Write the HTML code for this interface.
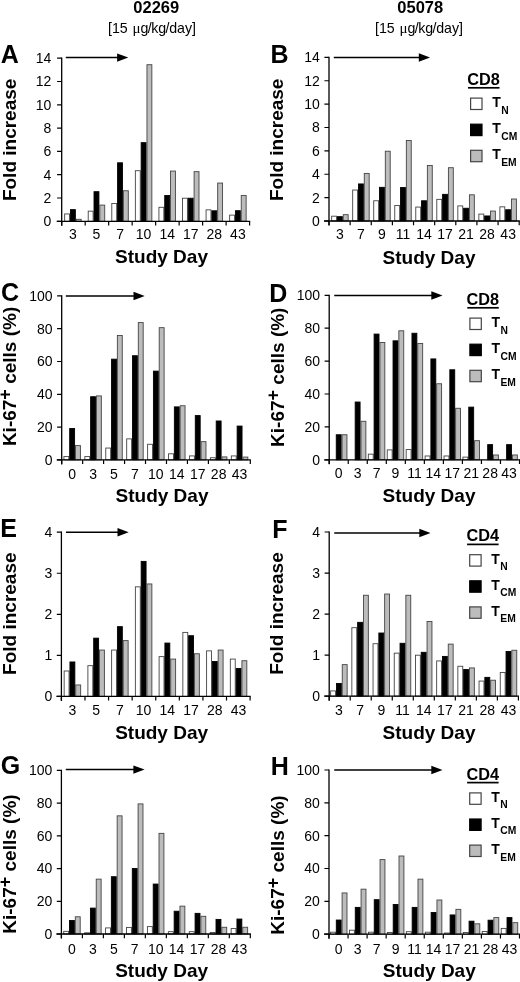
<!DOCTYPE html>
<html><head><meta charset="utf-8"><title>Figure</title>
<style>
html,body{margin:0;padding:0;background:#fff;width:520px;height:982px;overflow:hidden}
svg{display:block;filter:grayscale(1) blur(0.3px)}
text{font-family:"Liberation Sans",sans-serif;fill:#000}
.m{text-anchor:middle}
.e{text-anchor:end}
.w{fill:#fff;stroke:#444;stroke-width:.9px}
.k{fill:#000;stroke:#000;stroke-width:.9px}
.g{fill:#bcbcbc;stroke:#444;stroke-width:.9px}
.tk{stroke:#000;stroke-width:1.2px;fill:none}
.ax1{stroke:#000;stroke-width:1.3px;fill:none}
.t{font-size:14px}
.ax{font-size:19px;font-weight:bold}
.L{font-size:25px;font-weight:bold}
.hd{font-size:16.5px;font-weight:bold}
.sub{font-size:14.2px;word-spacing:0.8px}
.sup{font-size:18px}
.mu{font-family:"Liberation Serif",serif;font-size:15px}
.cd{font-size:16.3px;font-weight:bold}
.lt{font-size:14px;font-weight:bold}
.ls{font-size:10px;font-weight:bold}
</style></head>
<body><svg width="520" height="982" viewBox="0 0 520 982">
<rect width="520" height="982" fill="#fff"/>
<text x="156.3" y="13" class="hd m">02269</text>
<text x="152" y="32.8" class="sub m">[15 <tspan class="mu">&#956;</tspan>g<tspan dx="-0.6">/</tspan><tspan dx="-0.6">k</tspan>g<tspan dx="-0.6">/</tspan><tspan dx="-0.4">d</tspan>ay]</text>
<text x="420.3" y="13" class="hd m">05078</text>
<text x="419" y="32.8" class="sub m">[15 <tspan class="mu">&#956;</tspan>g<tspan dx="-0.6">/</tspan><tspan dx="-0.6">k</tspan>g<tspan dx="-0.6">/</tspan><tspan dx="-0.4">d</tspan>ay]</text>
<rect class="w" x="64.65" y="213.94" width="4.9" height="7.36"/>
<rect class="k" x="70.45" y="209.63" width="4.9" height="11.67"/>
<rect class="g" x="76.25" y="219.3" width="4.9" height="2"/>
<rect class="w" x="88.22" y="211.15" width="4.9" height="10.15"/>
<rect class="k" x="94.02" y="191.69" width="4.9" height="29.61"/>
<rect class="g" x="99.82" y="205.09" width="4.9" height="16.21"/>
<rect class="w" x="111.79" y="203.46" width="4.9" height="17.84"/>
<rect class="k" x="117.59" y="162.8" width="4.9" height="58.5"/>
<rect class="g" x="123.39" y="190.76" width="4.9" height="30.54"/>
<rect class="w" x="135.36" y="170.72" width="4.9" height="50.58"/>
<rect class="k" x="141.16" y="142.65" width="4.9" height="78.65"/>
<rect class="g" x="146.96" y="64.71" width="4.9" height="156.59"/>
<rect class="w" x="158.93" y="207.3" width="4.9" height="14"/>
<rect class="k" x="164.73" y="195.54" width="4.9" height="25.76"/>
<rect class="g" x="170.53" y="171.07" width="4.9" height="50.23"/>
<rect class="w" x="182.5" y="198.22" width="4.9" height="23.08"/>
<rect class="k" x="188.3" y="198.22" width="4.9" height="23.08"/>
<rect class="g" x="194.1" y="171.66" width="4.9" height="49.65"/>
<rect class="w" x="206.07" y="209.87" width="4.9" height="11.43"/>
<rect class="k" x="211.87" y="210.8" width="4.9" height="10.5"/>
<rect class="g" x="217.67" y="183.07" width="4.9" height="38.23"/>
<rect class="w" x="229.64" y="215.11" width="4.9" height="6.19"/>
<rect class="k" x="235.44" y="210.68" width="4.9" height="10.62"/>
<rect class="g" x="241.24" y="195.54" width="4.9" height="25.76"/>
<path class="ax1" d="M61.7 57.6V225.8M56.7 221.3H250.2"/>
<text x="51.4" y="226.2" class="t e">0</text>
<text x="51.4" y="202.9" class="t e">2</text>
<text x="51.4" y="179.6" class="t e">4</text>
<text x="51.4" y="156.3" class="t e">6</text>
<text x="51.4" y="133" class="t e">8</text>
<text x="51.4" y="109.7" class="t e">10</text>
<text x="51.4" y="86.4" class="t e">12</text>
<text x="51.4" y="63.1" class="t e">14</text>
<path class="tk" d="M57.1 221.3H61.7M57.1 198H61.7M57.1 174.7H61.7M57.1 151.4H61.7M57.1 128.1H61.7M57.1 104.8H61.7M57.1 81.5H61.7M57.1 58.2H61.7M61.7 221.3V225.5M85.19 221.3V225.5M108.67 221.3V225.5M132.16 221.3V225.5M155.65 221.3V225.5M179.14 221.3V225.5M202.62 221.3V225.5M226.11 221.3V225.5M249.6 221.3V225.5"/>
<text x="72.9" y="239.3" class="t m">3</text>
<text x="96.47" y="239.3" class="t m">5</text>
<text x="120.04" y="239.3" class="t m">7</text>
<text x="143.61" y="239.3" class="t m">10</text>
<text x="167.18" y="239.3" class="t m">14</text>
<text x="190.75" y="239.3" class="t m">17</text>
<text x="214.32" y="239.3" class="t m">28</text>
<text x="237.89" y="239.3" class="t m">43</text>
<path d="M65.8 57.6H120.3" stroke="#000" stroke-width="1.5"/>
<path d="M117.1 53.4L128.3 57.6L117.1 61.8Z" fill="#000"/>
<text x="0.7" y="62.8" class="L">A</text>
<text transform="translate(16.3 139.85) rotate(-90)" class="ax m">Fold increase</text>
<text x="161.5" y="263.1" class="ax m">Study Day</text>
<rect class="w" x="331.65" y="216.19" width="4.9" height="4.81"/>
<rect class="k" x="337.45" y="216.66" width="4.9" height="4.34"/>
<rect class="g" x="343.25" y="214.67" width="4.9" height="6.33"/>
<rect class="w" x="352.68" y="190.02" width="4.9" height="30.98"/>
<rect class="k" x="358.48" y="183.94" width="4.9" height="37.06"/>
<rect class="g" x="364.28" y="173.42" width="4.9" height="47.58"/>
<rect class="w" x="373.71" y="200.77" width="4.9" height="20.23"/>
<rect class="k" x="379.51" y="187.33" width="4.9" height="33.67"/>
<rect class="g" x="385.31" y="151.22" width="4.9" height="69.78"/>
<rect class="w" x="394.74" y="205.56" width="4.9" height="15.44"/>
<rect class="k" x="400.54" y="187.56" width="4.9" height="33.44"/>
<rect class="g" x="406.34" y="140.47" width="4.9" height="80.53"/>
<rect class="w" x="415.77" y="207.08" width="4.9" height="13.92"/>
<rect class="k" x="421.57" y="200.77" width="4.9" height="20.23"/>
<rect class="g" x="427.37" y="165.48" width="4.9" height="55.52"/>
<rect class="w" x="436.8" y="199.36" width="4.9" height="21.64"/>
<rect class="k" x="442.6" y="194.34" width="4.9" height="26.66"/>
<rect class="g" x="448.4" y="167.7" width="4.9" height="53.3"/>
<rect class="w" x="457.83" y="205.91" width="4.9" height="15.09"/>
<rect class="k" x="463.63" y="208.25" width="4.9" height="12.75"/>
<rect class="g" x="469.43" y="194.81" width="4.9" height="26.19"/>
<rect class="w" x="478.86" y="214.09" width="4.9" height="6.91"/>
<rect class="k" x="484.66" y="215.96" width="4.9" height="5.04"/>
<rect class="g" x="490.46" y="211.05" width="4.9" height="9.95"/>
<rect class="w" x="499.89" y="206.84" width="4.9" height="14.16"/>
<rect class="k" x="505.69" y="209.76" width="4.9" height="11.24"/>
<rect class="g" x="511.49" y="199.01" width="4.9" height="21.99"/>
<path class="ax1" d="M329 56.8V225.5M324 221H519.8"/>
<text x="319.9" y="225.9" class="t e">0</text>
<text x="319.9" y="202.53" class="t e">2</text>
<text x="319.9" y="179.16" class="t e">4</text>
<text x="319.9" y="155.79" class="t e">6</text>
<text x="319.9" y="132.41" class="t e">8</text>
<text x="319.9" y="109.04" class="t e">10</text>
<text x="319.9" y="85.67" class="t e">12</text>
<text x="319.9" y="62.3" class="t e">14</text>
<path class="tk" d="M324.4 221H329M324.4 197.63H329M324.4 174.26H329M324.4 150.89H329M324.4 127.51H329M324.4 104.14H329M324.4 80.77H329M324.4 57.4H329M329 221V225.2M350.13 221V225.2M371.27 221V225.2M392.4 221V225.2M413.53 221V225.2M434.67 221V225.2M455.8 221V225.2M476.93 221V225.2M498.07 221V225.2M519.2 221V225.2"/>
<text x="339.9" y="239.1" class="t m">3</text>
<text x="360.93" y="239.1" class="t m">7</text>
<text x="381.96" y="239.1" class="t m">9</text>
<text x="402.99" y="239.1" class="t m">11</text>
<text x="424.02" y="239.1" class="t m">14</text>
<text x="445.05" y="239.1" class="t m">17</text>
<text x="466.08" y="239.1" class="t m">21</text>
<text x="487.11" y="239.1" class="t m">28</text>
<text x="508.14" y="239.1" class="t m">43</text>
<path d="M333.8 57.5H422" stroke="#000" stroke-width="1.5"/>
<path d="M418.8 53.3L430 57.5L418.8 61.7Z" fill="#000"/>
<text x="270.4" y="62.8" class="L">B</text>
<text transform="translate(283.4 139.8) rotate(-90)" class="ax m">Fold increase</text>
<text x="429" y="264.1" class="ax m">Study Day</text>
<g transform="translate(0 0)">
<text x="467.3" y="84.8" class="cd">CD8</text>
<path d="M468 87.8H499.5" stroke="#000" stroke-width="1.7"/>
<rect x="470.6" y="98.1" width="11.4" height="11.4" fill="#fff" stroke="#444" stroke-width="1.2"/>
<text x="492.2" y="107.2" class="lt">T</text>
<text transform="translate(501.2 113.5) scale(1.03 1)" class="ls">N</text>
<rect x="470.6" y="124.2" width="11.4" height="11.4" fill="#000" stroke="#000" stroke-width="1.2"/>
<text x="492.2" y="133.3" class="lt">T</text>
<text transform="translate(501.2 139.6) scale(1.03 1)" class="ls">CM</text>
<rect x="470.6" y="150.3" width="11.4" height="11.4" fill="#bcbcbc" stroke="#444" stroke-width="1.2"/>
<text x="492.2" y="159.4" class="lt">T</text>
<text transform="translate(501.2 165.7) scale(1.03 1)" class="ls">EM</text>
</g>
<rect class="w" x="63.9" y="456.58" width="4.9" height="3.32"/>
<rect class="k" x="69.7" y="428.53" width="4.9" height="31.37"/>
<rect class="g" x="75.5" y="445.59" width="4.9" height="14.31"/>
<rect class="w" x="84.83" y="456.58" width="4.9" height="3.32"/>
<rect class="k" x="90.63" y="396.72" width="4.9" height="63.18"/>
<rect class="g" x="96.43" y="395.9" width="4.9" height="64"/>
<rect class="w" x="105.76" y="448.05" width="4.9" height="11.85"/>
<rect class="k" x="111.56" y="359.16" width="4.9" height="100.74"/>
<rect class="g" x="117.36" y="335.55" width="4.9" height="124.35"/>
<rect class="w" x="126.69" y="438.87" width="4.9" height="21.03"/>
<rect class="k" x="132.49" y="355.72" width="4.9" height="104.18"/>
<rect class="g" x="138.29" y="322.59" width="4.9" height="137.31"/>
<rect class="w" x="147.62" y="444.28" width="4.9" height="15.62"/>
<rect class="k" x="153.42" y="371.13" width="4.9" height="88.77"/>
<rect class="g" x="159.22" y="327.67" width="4.9" height="132.23"/>
<rect class="w" x="168.55" y="453.79" width="4.9" height="6.11"/>
<rect class="k" x="174.35" y="406.89" width="4.9" height="53.01"/>
<rect class="g" x="180.15" y="405.74" width="4.9" height="54.16"/>
<rect class="w" x="189.48" y="455.92" width="4.9" height="3.98"/>
<rect class="k" x="195.28" y="415.58" width="4.9" height="44.32"/>
<rect class="g" x="201.08" y="441.65" width="4.9" height="18.25"/>
<rect class="w" x="210.41" y="457.73" width="4.9" height="2.17"/>
<rect class="k" x="216.21" y="420.99" width="4.9" height="38.91"/>
<rect class="g" x="222.01" y="456.91" width="4.9" height="2.99"/>
<rect class="w" x="231.34" y="455.92" width="4.9" height="3.98"/>
<rect class="k" x="237.14" y="426.07" width="4.9" height="33.83"/>
<rect class="g" x="242.94" y="457.07" width="4.9" height="2.83"/>
<path class="ax1" d="M61.7 295.3V464.4M56.7 459.9H250.9"/>
<text x="52.5" y="464.8" class="t e">0</text>
<text x="52.5" y="432" class="t e">20</text>
<text x="52.5" y="399.2" class="t e">40</text>
<text x="52.5" y="366.4" class="t e">60</text>
<text x="52.5" y="333.6" class="t e">80</text>
<text x="52.5" y="300.8" class="t e">100</text>
<path class="tk" d="M57.1 459.9H61.7M57.1 427.1H61.7M57.1 394.3H61.7M57.1 361.5H61.7M57.1 328.7H61.7M57.1 295.9H61.7M61.7 459.9V464.1M82.66 459.9V464.1M103.61 459.9V464.1M124.57 459.9V464.1M145.52 459.9V464.1M166.48 459.9V464.1M187.43 459.9V464.1M208.39 459.9V464.1M229.34 459.9V464.1M250.3 459.9V464.1"/>
<text x="72.15" y="478.7" class="t m">0</text>
<text x="93.08" y="478.7" class="t m">3</text>
<text x="114.01" y="478.7" class="t m">5</text>
<text x="134.94" y="478.7" class="t m">7</text>
<text x="155.87" y="478.7" class="t m">10</text>
<text x="176.8" y="478.7" class="t m">14</text>
<text x="197.73" y="478.7" class="t m">17</text>
<text x="218.66" y="478.7" class="t m">28</text>
<text x="239.59" y="478.7" class="t m">43</text>
<path d="M65.8 296H136.7" stroke="#000" stroke-width="1.5"/>
<path d="M133.5 291.8L144.7 296L133.5 300.2Z" fill="#000"/>
<text x="1" y="301" class="L">C</text>
<text transform="translate(16.4 376.45) rotate(-90)" class="ax m">Ki-67<tspan class="sup" dy="-5">+</tspan><tspan dy="5"> cells (%)</tspan></text>
<text x="162" y="501.5" class="ax m">Study Day</text>
<rect class="k" x="336.25" y="434.75" width="4.9" height="25.05"/>
<rect class="g" x="342.05" y="434.75" width="4.9" height="25.05"/>
<rect class="k" x="355.18" y="402.02" width="4.9" height="57.78"/>
<rect class="g" x="360.98" y="421.26" width="4.9" height="38.54"/>
<rect class="w" x="368.31" y="454.16" width="4.9" height="5.64"/>
<rect class="k" x="374.11" y="334.08" width="4.9" height="125.72"/>
<rect class="g" x="379.91" y="342.47" width="4.9" height="117.33"/>
<rect class="w" x="387.24" y="449.89" width="4.9" height="9.91"/>
<rect class="k" x="393.04" y="340.82" width="4.9" height="118.98"/>
<rect class="g" x="398.84" y="330.79" width="4.9" height="129.01"/>
<rect class="w" x="406.17" y="449.56" width="4.9" height="10.24"/>
<rect class="k" x="411.97" y="333.26" width="4.9" height="126.54"/>
<rect class="g" x="417.77" y="343.45" width="4.9" height="116.34"/>
<rect class="w" x="425.1" y="455.97" width="4.9" height="3.83"/>
<rect class="k" x="430.9" y="358.92" width="4.9" height="100.88"/>
<rect class="g" x="436.7" y="383.76" width="4.9" height="76.04"/>
<rect class="w" x="444.03" y="455.97" width="4.9" height="3.83"/>
<rect class="k" x="449.83" y="369.78" width="4.9" height="90.02"/>
<rect class="g" x="455.63" y="408.27" width="4.9" height="51.53"/>
<rect class="w" x="462.96" y="457.12" width="4.9" height="2.68"/>
<rect class="k" x="468.76" y="407.12" width="4.9" height="52.68"/>
<rect class="g" x="474.56" y="440.67" width="4.9" height="19.13"/>
<rect class="k" x="487.69" y="444.62" width="4.9" height="15.18"/>
<rect class="g" x="493.49" y="454.99" width="4.9" height="4.81"/>
<rect class="k" x="506.62" y="444.62" width="4.9" height="15.18"/>
<rect class="g" x="512.42" y="454.99" width="4.9" height="4.81"/>
<path class="ax1" d="M329.2 294.7V464.3M324.2 459.8H520.1"/>
<text x="320.1" y="464.7" class="t e">0</text>
<text x="320.1" y="431.8" class="t e">20</text>
<text x="320.1" y="398.9" class="t e">40</text>
<text x="320.1" y="366" class="t e">60</text>
<text x="320.1" y="333.1" class="t e">80</text>
<text x="320.1" y="300.2" class="t e">100</text>
<path class="tk" d="M324.6 459.8H329.2M324.6 426.9H329.2M324.6 394H329.2M324.6 361.1H329.2M324.6 328.2H329.2M324.6 295.3H329.2M329.2 459.8V464M348.23 459.8V464M367.26 459.8V464M386.29 459.8V464M405.32 459.8V464M424.35 459.8V464M443.38 459.8V464M462.41 459.8V464M481.44 459.8V464M500.47 459.8V464M519.5 459.8V464"/>
<text x="338.7" y="478.3" class="t m">0</text>
<text x="357.63" y="478.3" class="t m">3</text>
<text x="376.56" y="478.3" class="t m">7</text>
<text x="395.49" y="478.3" class="t m">9</text>
<text x="414.42" y="478.3" class="t m">11</text>
<text x="433.35" y="478.3" class="t m">14</text>
<text x="452.28" y="478.3" class="t m">17</text>
<text x="471.21" y="478.3" class="t m">21</text>
<text x="490.14" y="478.3" class="t m">28</text>
<text x="509.07" y="478.3" class="t m">43</text>
<path d="M334.25 295.5H434.5" stroke="#000" stroke-width="1.5"/>
<path d="M431.3 291.3L442.5 295.5L431.3 299.7Z" fill="#000"/>
<text x="269.3" y="301.7" class="L">D</text>
<text transform="translate(284.1 377.25) rotate(-90)" class="ax m">Ki-67<tspan class="sup" dy="-5">+</tspan><tspan dy="5"> cells (%)</tspan></text>
<text x="429" y="502.3" class="ax m">Study Day</text>
<g transform="translate(-0.7 0)">
<text x="467.3" y="304.8" class="cd">CD8</text>
<path d="M468 307.8H499.5" stroke="#000" stroke-width="1.7"/>
<rect x="470.6" y="318.1" width="11.4" height="11.4" fill="#fff" stroke="#444" stroke-width="1.2"/>
<text x="492.2" y="327.2" class="lt">T</text>
<text transform="translate(501.2 333.5) scale(1.03 1)" class="ls">N</text>
<rect x="470.6" y="344.2" width="11.4" height="11.4" fill="#000" stroke="#000" stroke-width="1.2"/>
<text x="492.2" y="353.3" class="lt">T</text>
<text transform="translate(501.2 359.6) scale(1.03 1)" class="ls">CM</text>
<rect x="470.6" y="370.3" width="11.4" height="11.4" fill="#bcbcbc" stroke="#444" stroke-width="1.2"/>
<text x="492.2" y="379.4" class="lt">T</text>
<text transform="translate(501.2 385.7) scale(1.03 1)" class="ls">EM</text>
</g>
<rect class="w" x="64.15" y="670.99" width="4.9" height="25.41"/>
<rect class="k" x="69.95" y="661.96" width="4.9" height="34.44"/>
<rect class="g" x="75.75" y="684.95" width="4.9" height="11.45"/>
<rect class="w" x="87.89" y="665.65" width="4.9" height="30.75"/>
<rect class="k" x="93.69" y="638.15" width="4.9" height="58.25"/>
<rect class="g" x="99.49" y="650.05" width="4.9" height="46.35"/>
<rect class="w" x="111.63" y="650.05" width="4.9" height="46.35"/>
<rect class="k" x="117.43" y="626.65" width="4.9" height="69.75"/>
<rect class="g" x="123.23" y="640.61" width="4.9" height="55.79"/>
<rect class="w" x="135.37" y="586.84" width="4.9" height="109.56"/>
<rect class="k" x="141.17" y="561.39" width="4.9" height="135.01"/>
<rect class="g" x="146.97" y="583.96" width="4.9" height="112.44"/>
<rect class="w" x="159.11" y="656.62" width="4.9" height="39.78"/>
<rect class="k" x="164.91" y="643.07" width="4.9" height="53.33"/>
<rect class="g" x="170.71" y="659.08" width="4.9" height="37.32"/>
<rect class="w" x="182.85" y="632.4" width="4.9" height="64"/>
<rect class="k" x="188.65" y="635.69" width="4.9" height="60.71"/>
<rect class="g" x="194.45" y="653.75" width="4.9" height="42.65"/>
<rect class="w" x="206.59" y="650.87" width="4.9" height="45.53"/>
<rect class="k" x="212.39" y="661.55" width="4.9" height="34.85"/>
<rect class="g" x="218.19" y="650.05" width="4.9" height="46.35"/>
<rect class="w" x="230.33" y="659.08" width="4.9" height="37.32"/>
<rect class="k" x="236.13" y="668.53" width="4.9" height="27.87"/>
<rect class="g" x="241.93" y="660.73" width="4.9" height="35.67"/>
<path class="ax1" d="M61.4 531.6V700.9M56.4 696.4H250.7"/>
<text x="52.3" y="701.3" class="t e">0</text>
<text x="52.3" y="660.25" class="t e">1</text>
<text x="52.3" y="619.2" class="t e">2</text>
<text x="52.3" y="578.15" class="t e">3</text>
<text x="52.3" y="537.1" class="t e">4</text>
<path class="tk" d="M56.8 696.4H61.4M56.8 655.35H61.4M56.8 614.3H61.4M56.8 573.25H61.4M56.8 532.2H61.4M61.4 696.4V700.6M84.99 696.4V700.6M108.57 696.4V700.6M132.16 696.4V700.6M155.75 696.4V700.6M179.34 696.4V700.6M202.92 696.4V700.6M226.51 696.4V700.6M250.1 696.4V700.6"/>
<text x="72.4" y="715.4" class="t m">3</text>
<text x="96.14" y="715.4" class="t m">5</text>
<text x="119.88" y="715.4" class="t m">7</text>
<text x="143.62" y="715.4" class="t m">10</text>
<text x="167.36" y="715.4" class="t m">14</text>
<text x="191.1" y="715.4" class="t m">17</text>
<text x="214.84" y="715.4" class="t m">28</text>
<text x="238.58" y="715.4" class="t m">43</text>
<path d="M66 532.3H120.7" stroke="#000" stroke-width="1.5"/>
<path d="M117.5 528.1L128.7 532.3L117.5 536.5Z" fill="#000"/>
<text x="0.3" y="537.2" class="L">E</text>
<text transform="translate(16.3 613.7) rotate(-90)" class="ax m">Fold increase</text>
<text x="161.6" y="738.8" class="ax m">Study Day</text>
<rect class="w" x="330.65" y="690.9" width="4.9" height="5.3"/>
<rect class="k" x="336.45" y="683.51" width="4.9" height="12.69"/>
<rect class="g" x="342.25" y="664.63" width="4.9" height="31.57"/>
<rect class="w" x="351.85" y="627.69" width="4.9" height="68.51"/>
<rect class="k" x="357.65" y="622.35" width="4.9" height="73.85"/>
<rect class="g" x="363.45" y="595.26" width="4.9" height="100.94"/>
<rect class="w" x="373.05" y="643.7" width="4.9" height="52.5"/>
<rect class="k" x="378.85" y="633.02" width="4.9" height="63.18"/>
<rect class="g" x="384.65" y="594.03" width="4.9" height="102.18"/>
<rect class="w" x="394.25" y="653.14" width="4.9" height="43.06"/>
<rect class="k" x="400.05" y="643.29" width="4.9" height="52.92"/>
<rect class="g" x="405.85" y="595.26" width="4.9" height="100.94"/>
<rect class="w" x="415.45" y="655.19" width="4.9" height="41.01"/>
<rect class="k" x="421.25" y="652.32" width="4.9" height="43.88"/>
<rect class="g" x="427.05" y="621.53" width="4.9" height="74.67"/>
<rect class="w" x="436.65" y="660.94" width="4.9" height="35.26"/>
<rect class="k" x="442.45" y="656.42" width="4.9" height="39.78"/>
<rect class="g" x="448.25" y="644.11" width="4.9" height="52.09"/>
<rect class="w" x="457.85" y="666.27" width="4.9" height="29.93"/>
<rect class="k" x="463.65" y="669.56" width="4.9" height="26.64"/>
<rect class="g" x="469.45" y="667.92" width="4.9" height="28.29"/>
<rect class="w" x="479.05" y="681.05" width="4.9" height="15.15"/>
<rect class="k" x="484.85" y="677.36" width="4.9" height="18.84"/>
<rect class="g" x="490.65" y="680.23" width="4.9" height="15.97"/>
<rect class="w" x="500.25" y="672.43" width="4.9" height="23.77"/>
<rect class="k" x="506.05" y="651.5" width="4.9" height="44.71"/>
<rect class="g" x="511.85" y="650.26" width="4.9" height="45.94"/>
<path class="ax1" d="M329.2 531.4V700.7M324.2 696.2H519"/>
<text x="320.1" y="701.1" class="t e">0</text>
<text x="320.1" y="660.05" class="t e">1</text>
<text x="320.1" y="619" class="t e">2</text>
<text x="320.1" y="577.95" class="t e">3</text>
<text x="320.1" y="536.9" class="t e">4</text>
<path class="tk" d="M324.6 696.2H329.2M324.6 655.15H329.2M324.6 614.1H329.2M324.6 573.05H329.2M324.6 532H329.2M329.2 696.2V700.4M350.22 696.2V700.4M371.24 696.2V700.4M392.27 696.2V700.4M413.29 696.2V700.4M434.31 696.2V700.4M455.33 696.2V700.4M476.36 696.2V700.4M497.38 696.2V700.4M518.4 696.2V700.4"/>
<text x="338.9" y="715.2" class="t m">3</text>
<text x="360.1" y="715.2" class="t m">7</text>
<text x="381.3" y="715.2" class="t m">9</text>
<text x="402.5" y="715.2" class="t m">11</text>
<text x="423.7" y="715.2" class="t m">14</text>
<text x="444.9" y="715.2" class="t m">17</text>
<text x="466.1" y="715.2" class="t m">21</text>
<text x="487.3" y="715.2" class="t m">28</text>
<text x="508.5" y="715.2" class="t m">43</text>
<path d="M334.25 533H422.5" stroke="#000" stroke-width="1.5"/>
<path d="M419.3 528.8L430.5 533L419.3 537.2Z" fill="#000"/>
<text x="272.2" y="537.6" class="L">F</text>
<text transform="translate(283.4 613.5) rotate(-90)" class="ax m">Fold increase</text>
<text x="429" y="738.8" class="ax m">Study Day</text>
<g transform="translate(-0.9 0)">
<text x="467.3" y="541.4" class="cd">CD4</text>
<path d="M468 544.4H499.5" stroke="#000" stroke-width="1.7"/>
<rect x="470.6" y="554.7" width="11.4" height="11.4" fill="#fff" stroke="#444" stroke-width="1.2"/>
<text x="492.2" y="563.8" class="lt">T</text>
<text transform="translate(501.2 570.1) scale(1.03 1)" class="ls">N</text>
<rect x="470.6" y="580.8" width="11.4" height="11.4" fill="#000" stroke="#000" stroke-width="1.2"/>
<text x="492.2" y="589.9" class="lt">T</text>
<text transform="translate(501.2 596.2) scale(1.03 1)" class="ls">CM</text>
<rect x="470.6" y="606.9" width="11.4" height="11.4" fill="#bcbcbc" stroke="#444" stroke-width="1.2"/>
<text x="492.2" y="616" class="lt">T</text>
<text transform="translate(501.2 622.3) scale(1.03 1)" class="ls">EM</text>
</g>
<rect class="w" x="63.7" y="931.34" width="4.9" height="2.66"/>
<rect class="k" x="69.5" y="920.54" width="4.9" height="13.46"/>
<rect class="g" x="75.3" y="916.78" width="4.9" height="17.22"/>
<rect class="w" x="84.63" y="932.81" width="4.9" height="1.19"/>
<rect class="k" x="90.43" y="908.11" width="4.9" height="25.89"/>
<rect class="g" x="96.23" y="879.15" width="4.9" height="54.85"/>
<rect class="w" x="105.56" y="927.91" width="4.9" height="6.09"/>
<rect class="k" x="111.36" y="876.7" width="4.9" height="57.3"/>
<rect class="g" x="117.16" y="815.84" width="4.9" height="118.16"/>
<rect class="w" x="126.49" y="927.42" width="4.9" height="6.58"/>
<rect class="k" x="132.29" y="868.52" width="4.9" height="65.48"/>
<rect class="g" x="138.09" y="803.9" width="4.9" height="130.1"/>
<rect class="w" x="147.42" y="926.6" width="4.9" height="7.4"/>
<rect class="k" x="153.22" y="884.06" width="4.9" height="49.94"/>
<rect class="g" x="159.02" y="833.35" width="4.9" height="100.65"/>
<rect class="w" x="168.35" y="931.67" width="4.9" height="2.33"/>
<rect class="k" x="174.15" y="911.22" width="4.9" height="22.78"/>
<rect class="g" x="179.95" y="906.15" width="4.9" height="27.85"/>
<rect class="w" x="189.28" y="931.67" width="4.9" height="2.33"/>
<rect class="k" x="195.08" y="913.35" width="4.9" height="20.65"/>
<rect class="g" x="200.88" y="916.29" width="4.9" height="17.71"/>
<rect class="w" x="210.21" y="932.49" width="4.9" height="1.51"/>
<rect class="k" x="216.01" y="919.4" width="4.9" height="14.6"/>
<rect class="g" x="221.81" y="927.25" width="4.9" height="6.75"/>
<rect class="w" x="231.14" y="928.56" width="4.9" height="5.44"/>
<rect class="k" x="236.94" y="919.07" width="4.9" height="14.93"/>
<rect class="g" x="242.74" y="927.25" width="4.9" height="6.75"/>
<path class="ax1" d="M61.4 769.8V938.5M56.4 934H250.9"/>
<text x="52.3" y="938.9" class="t e">0</text>
<text x="52.3" y="906.18" class="t e">20</text>
<text x="52.3" y="873.46" class="t e">40</text>
<text x="52.3" y="840.74" class="t e">60</text>
<text x="52.3" y="808.02" class="t e">80</text>
<text x="52.3" y="775.3" class="t e">100</text>
<path class="tk" d="M56.8 934H61.4M56.8 901.28H61.4M56.8 868.56H61.4M56.8 835.84H61.4M56.8 803.12H61.4M56.8 770.4H61.4M61.4 934V938.2M82.39 934V938.2M103.38 934V938.2M124.37 934V938.2M145.36 934V938.2M166.34 934V938.2M187.33 934V938.2M208.32 934V938.2M229.31 934V938.2M250.3 934V938.2"/>
<text x="71.95" y="953.6" class="t m">0</text>
<text x="92.88" y="953.6" class="t m">3</text>
<text x="113.81" y="953.6" class="t m">5</text>
<text x="134.74" y="953.6" class="t m">7</text>
<text x="155.67" y="953.6" class="t m">10</text>
<text x="176.6" y="953.6" class="t m">14</text>
<text x="197.53" y="953.6" class="t m">17</text>
<text x="218.46" y="953.6" class="t m">28</text>
<text x="239.39" y="953.6" class="t m">43</text>
<path d="M65.8 769.6H136.6" stroke="#000" stroke-width="1.5"/>
<path d="M133.4 765.4L144.6 769.6L133.4 773.8Z" fill="#000"/>
<text x="0.7" y="774.4" class="L">G</text>
<text transform="translate(16.4 864.05) rotate(-90)" class="ax m">Ki-67<tspan class="sup" dy="-5">+</tspan><tspan dy="5"> cells (%)</tspan></text>
<text x="161.6" y="976.9" class="ax m">Study Day</text>
<rect class="w" x="330.5" y="932.19" width="4.9" height="2.01"/>
<rect class="k" x="336.3" y="920.04" width="4.9" height="14.16"/>
<rect class="g" x="342.1" y="892.94" width="4.9" height="41.26"/>
<rect class="w" x="349.47" y="930.22" width="4.9" height="3.98"/>
<rect class="k" x="355.27" y="907.39" width="4.9" height="26.81"/>
<rect class="g" x="361.07" y="889.17" width="4.9" height="45.03"/>
<rect class="w" x="368.44" y="932.19" width="4.9" height="2.01"/>
<rect class="k" x="374.24" y="899.68" width="4.9" height="34.52"/>
<rect class="g" x="380.04" y="859.61" width="4.9" height="74.59"/>
<rect class="w" x="387.41" y="932.52" width="4.9" height="1.68"/>
<rect class="k" x="393.21" y="904.44" width="4.9" height="29.76"/>
<rect class="g" x="399.01" y="856" width="4.9" height="78.2"/>
<rect class="w" x="406.38" y="931.69" width="4.9" height="2.51"/>
<rect class="k" x="412.18" y="907.39" width="4.9" height="26.81"/>
<rect class="g" x="417.98" y="879.15" width="4.9" height="55.05"/>
<rect class="w" x="425.35" y="932.19" width="4.9" height="2.01"/>
<rect class="k" x="431.15" y="912.48" width="4.9" height="21.72"/>
<rect class="g" x="436.95" y="900" width="4.9" height="34.2"/>
<rect class="w" x="444.32" y="933.01" width="4.9" height="1.19"/>
<rect class="k" x="450.12" y="914.95" width="4.9" height="19.25"/>
<rect class="g" x="455.92" y="909.36" width="4.9" height="24.84"/>
<rect class="w" x="463.29" y="932.52" width="4.9" height="1.68"/>
<rect class="k" x="469.09" y="921.19" width="4.9" height="13.01"/>
<rect class="g" x="474.89" y="923.81" width="4.9" height="10.39"/>
<rect class="w" x="482.26" y="931.53" width="4.9" height="2.67"/>
<rect class="k" x="488.06" y="920.2" width="4.9" height="14"/>
<rect class="g" x="493.86" y="917.57" width="4.9" height="16.63"/>
<rect class="w" x="501.23" y="928.41" width="4.9" height="5.79"/>
<rect class="k" x="507.03" y="917.57" width="4.9" height="16.63"/>
<rect class="g" x="512.83" y="922.66" width="4.9" height="11.54"/>
<path class="ax1" d="M329 769.4V938.7M324 934.2H520.1"/>
<text x="319.9" y="939.1" class="t e">0</text>
<text x="319.9" y="906.26" class="t e">20</text>
<text x="319.9" y="873.42" class="t e">40</text>
<text x="319.9" y="840.58" class="t e">60</text>
<text x="319.9" y="807.74" class="t e">80</text>
<text x="319.9" y="774.9" class="t e">100</text>
<path class="tk" d="M324.4 934.2H329M324.4 901.36H329M324.4 868.52H329M324.4 835.68H329M324.4 802.84H329M324.4 770H329M329 934.2V938.4M348.05 934.2V938.4M367.1 934.2V938.4M386.15 934.2V938.4M405.2 934.2V938.4M424.25 934.2V938.4M443.3 934.2V938.4M462.35 934.2V938.4M481.4 934.2V938.4M500.45 934.2V938.4M519.5 934.2V938.4"/>
<text x="338.75" y="954" class="t m">0</text>
<text x="357.72" y="954" class="t m">3</text>
<text x="376.69" y="954" class="t m">7</text>
<text x="395.66" y="954" class="t m">9</text>
<text x="414.63" y="954" class="t m">11</text>
<text x="433.6" y="954" class="t m">14</text>
<text x="452.57" y="954" class="t m">17</text>
<text x="471.54" y="954" class="t m">21</text>
<text x="490.51" y="954" class="t m">28</text>
<text x="509.48" y="954" class="t m">43</text>
<path d="M334.25 770H434.5" stroke="#000" stroke-width="1.5"/>
<path d="M431.3 765.8L442.5 770L431.3 774.2Z" fill="#000"/>
<text x="270.8" y="774.5" class="L">H</text>
<text transform="translate(284.1 865.05) rotate(-90)" class="ax m">Ki-67<tspan class="sup" dy="-5">+</tspan><tspan dy="5"> cells (%)</tspan></text>
<text x="429.3" y="976.9" class="ax m">Study Day</text>
<g transform="translate(-0.9 0)">
<text x="467.3" y="779.6" class="cd">CD4</text>
<path d="M468 782.6H499.5" stroke="#000" stroke-width="1.7"/>
<rect x="470.6" y="792.9" width="11.4" height="11.4" fill="#fff" stroke="#444" stroke-width="1.2"/>
<text x="492.2" y="802" class="lt">T</text>
<text transform="translate(501.2 808.3) scale(1.03 1)" class="ls">N</text>
<rect x="470.6" y="819" width="11.4" height="11.4" fill="#000" stroke="#000" stroke-width="1.2"/>
<text x="492.2" y="828.1" class="lt">T</text>
<text transform="translate(501.2 834.4) scale(1.03 1)" class="ls">CM</text>
<rect x="470.6" y="845.1" width="11.4" height="11.4" fill="#bcbcbc" stroke="#444" stroke-width="1.2"/>
<text x="492.2" y="854.2" class="lt">T</text>
<text transform="translate(501.2 860.5) scale(1.03 1)" class="ls">EM</text>
</g>
</svg></body></html>
